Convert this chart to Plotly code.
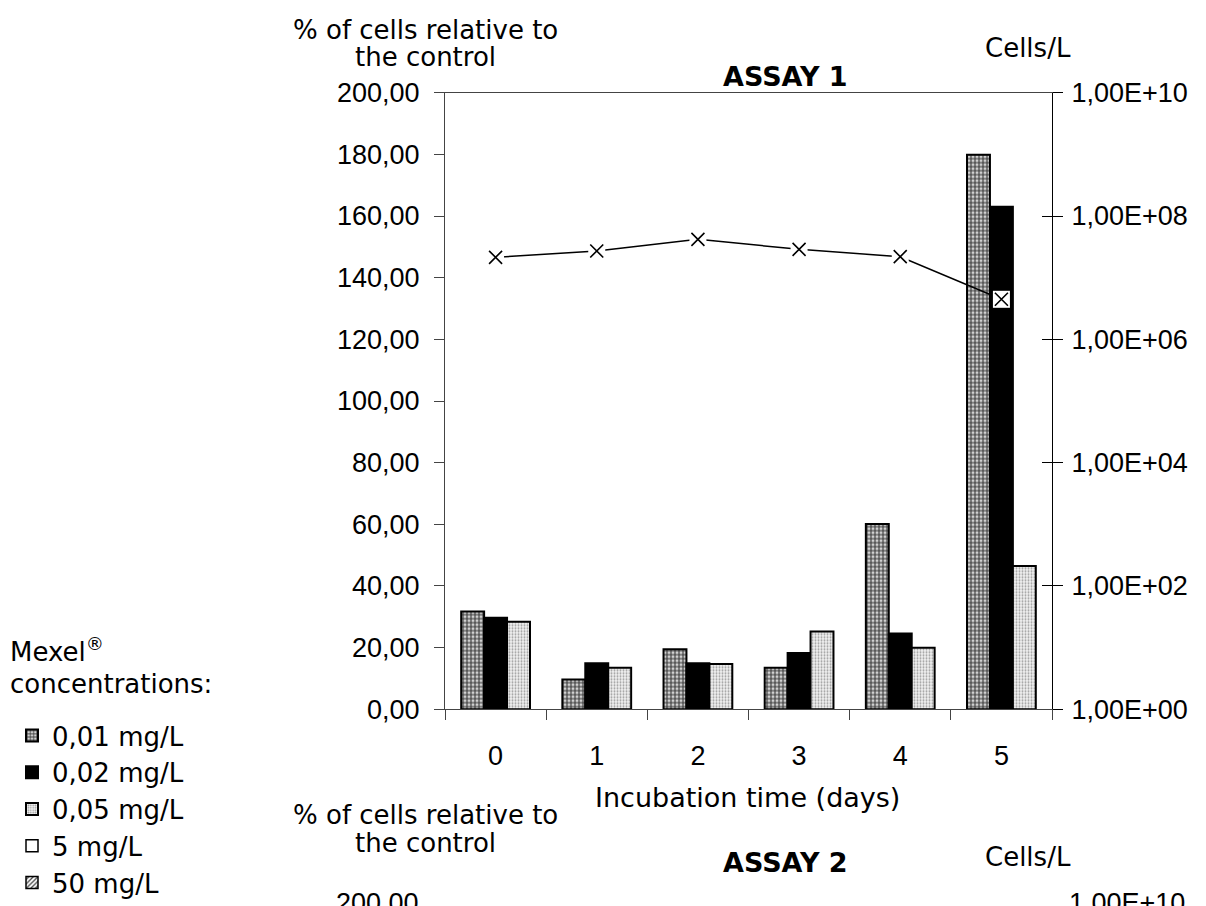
import plotly.graph_objects as go

days = ["0", "1", "2", "3", "4", "5"]
conc_labels = ["0,01 mg/L", "0,02 mg/L", "0,05 mg/L", "5 mg/L", "50 mg/L"]

pct_001 = [31.7, 9.7, 19.5, 13.5, 60.1, 179.9]
pct_002 = [29.7, 14.9, 14.9, 18.3, 24.6, 163.0]
pct_005 = [28.4, 13.5, 14.7, 25.2, 20.0, 46.5]

cells_per_l = [2.14e7, 2.71e7, 4.19e7, 2.88e7, 2.19e7, 4.46e6]

left_ticks = [0, 20, 40, 60, 80, 100, 120, 140, 160, 180, 200]
right_tickvals = [1e0, 1e2, 1e4, 1e6, 1e8, 1e10]
right_ticktext = ["1,00E+00", "1,00E+02", "1,00E+04", "1,00E+06", "1,00E+08", "1,00E+10"]

W, H = 1206, 906
TXT = "DejaVu Sans, Verdana, sans-serif"
TICKF = "Liberation Sans, Arial, sans-serif"


def px(x):
    return x / W


def py(y):
    return 1 - y / H


fig = go.Figure()

styles = [
    dict(pattern=dict(shape="+", size=4, solidity=0.45, fgcolor="#333333", bgcolor="#d0d0d0", fillmode="replace"), color="#888888"),
    dict(color="#000000"),
    dict(pattern=dict(shape=".", size=3, solidity=0.35, fgcolor="#9a9a9a", bgcolor="#f2f2f2", fillmode="replace"), color="#dddddd"),
    dict(color="#ffffff"),
    dict(pattern=dict(shape="/", size=4, solidity=0.4, fgcolor="#444444", bgcolor="#ffffff", fillmode="replace"), color="#aaaaaa"),
]

series = [pct_001, pct_002, pct_005]
for i, vals in enumerate(series):
    st = styles[i]
    fig.add_trace(go.Bar(
        x=days, y=vals, name=conc_labels[i],
        marker=dict(color=st["color"], pattern=st.get("pattern"), line=dict(color="#000000", width=2)),
        xaxis="x", yaxis="y",
    ))

# concentrations not measured in assay 1: legend entries only (hidden axes, out of range)
for i in (3, 4):
    st = styles[i]
    fig.add_trace(go.Bar(
        x=["n/a"], y=[0], name=conc_labels[i],
        marker=dict(color=st["color"], pattern=st.get("pattern"), line=dict(color="#000000", width=1.5)),
        xaxis="x2", yaxis="y4",
    ))

# cells/L line with white marker backgrounds
fig.add_trace(go.Scatter(
    x=days, y=cells_per_l, mode="lines+markers", showlegend=False,
    line=dict(color="#000000", width=1.5),
    marker=dict(symbol="square", size=17, color="#ffffff", line=dict(width=0)),
    xaxis="x", yaxis="y2",
))
fig.add_trace(go.Scatter(
    x=days, y=cells_per_l, mode="markers", showlegend=False,
    marker=dict(symbol="x-thin", size=13, color="#000000", line=dict(color="#000000", width=1.6)),
    xaxis="x", yaxis="y2",
))
# trace so that the inside-tick overlay axis is drawn
fig.add_trace(go.Scatter(x=[], y=[], xaxis="x", yaxis="y3", showlegend=False))

xdom = [px(445), px(1052)]
ydom = [py(709.3), py(92.7)]
axcol = "#444444"

fig.update_layout(
    width=W, height=H,
    margin=dict(l=0, r=0, t=0, b=0, autoexpand=False),
    paper_bgcolor="#ffffff", plot_bgcolor="#ffffff",
    separators=", ",
    barmode="group", bargap=0.32, bargroupgap=0,
    font=dict(family=TXT, size=26, color="#000000"),
    xaxis=dict(
        domain=xdom, anchor="y", type="category", range=[-0.5, 5.5], automargin=False,
        tickson="boundaries", ticks="outside", ticklen=10, tickwidth=1.2, tickcolor=axcol,
        showline=True, linecolor=axcol, linewidth=1.2, mirror=True,
        showgrid=False, zeroline=False,
        tickfont=dict(family=TICKF, size=27), ticklabelstandoff=22,
    ),
    yaxis=dict(
        domain=ydom, anchor="x", range=[0, 200], tickvals=left_ticks, tickformat=".2f", automargin=False,
        ticks="outside", ticklen=10, tickwidth=1.2, tickcolor=axcol,
        showline=True, linecolor=axcol, linewidth=1.2,
        showgrid=False, zeroline=False,
        tickfont=dict(family=TICKF, size=27), ticklabelstandoff=9,
    ),
    yaxis2=dict(
        overlaying="y", anchor="x", side="right", type="log", range=[0, 10], automargin=False,
        tickvals=right_tickvals, ticktext=right_ticktext,
        ticks="outside", ticklen=10, tickwidth=1.2, tickcolor="#000000",
        showline=True, linecolor="#000000", linewidth=1.2,
        showgrid=False, zeroline=False,
        tickfont=dict(family=TICKF, size=27), ticklabelstandoff=3,
    ),
    yaxis3=dict(
        overlaying="y", anchor="x", side="right", type="log", range=[0, 10], automargin=False,
        tickvals=right_tickvals, showticklabels=False,
        ticks="inside", ticklen=10, tickwidth=1.2, tickcolor="#000000",
        showline=False, showgrid=False, zeroline=False,
    ),
    xaxis2=dict(domain=[0, 0.01], anchor="y4", visible=False, automargin=False),
    yaxis4=dict(domain=[0.99, 1], anchor="x2", visible=False, range=[10, 11], automargin=False),
    legend=dict(
        x=px(12), xanchor="left", y=py(712), yanchor="top",
        bgcolor="rgba(0,0,0,0)", traceorder="normal",
        font=dict(family=TXT, size=26),
        itemwidth=30,
    ),
)

ann = [
    dict(text="% of cells relative to", x=px(425), y=py(30), size=26),
    dict(text="the control", x=px(425), y=py(57), size=26),
    dict(text="Cells/L", x=px(1028), y=py(48), size=26),
    dict(text="<b>ASSAY 1</b>", x=px(785), y=py(77), size=27),
    dict(text="Incubation time (days)", x=px(747), y=py(797), size=27),
    dict(text="% of cells relative to", x=px(425), y=py(815), size=26),
    dict(text="the control", x=px(425), y=py(843), size=26),
    dict(text="Cells/L", x=px(1028), y=py(857), size=26),
    dict(text="<b>ASSAY 2</b>", x=px(785), y=py(862), size=27),
]
for a in ann:
    size = a.pop("size")
    fig.add_annotation(xref="paper", yref="paper", xanchor="center", yanchor="middle",
                       showarrow=False, font=dict(family=TXT, size=size), **a)

fig.add_annotation(text="Mexel<sup>®</sup>", xref="paper", yref="paper", x=px(8), y=py(650),
                   xanchor="left", yanchor="middle", showarrow=False, font=dict(family=TXT, size=26))
fig.add_annotation(text="concentrations:", xref="paper", yref="paper", x=px(8), y=py(684),
                   xanchor="left", yanchor="middle", showarrow=False, font=dict(family=TXT, size=26))

fig.add_annotation(text="200,00", xref="paper", yref="paper", x=px(421), y=py(886),
                   xanchor="right", yanchor="top", showarrow=False, font=dict(family=TICKF, size=27))
fig.add_annotation(text="1,00E+10", xref="paper", yref="paper", x=px(1067), y=py(886),
                   xanchor="left", yanchor="top", showarrow=False, font=dict(family=TICKF, size=27))

fig.write_html("out.html")
